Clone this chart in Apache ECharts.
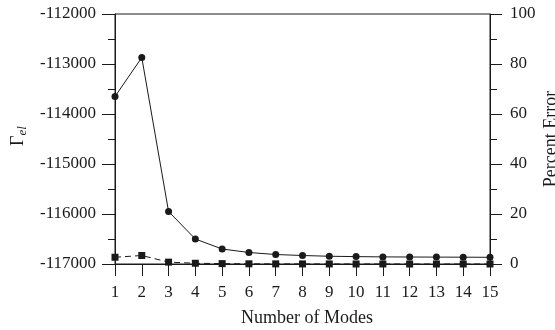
<!DOCTYPE html>
<html>
<head>
<meta charset="utf-8">
<script src="https://cdn.jsdelivr.net/npm/echarts@6/dist/echarts.min.js"></script>
<style>
  html, body { margin: 0; padding: 0; background: #fff; }
  #chart { width: 555px; height: 330px; }
</style>
</head>
<body>
<div id="chart"></div>
<script>
// Number of modes retained in the expansion
const modes = [1, 2, 3, 4, 5, 6, 7, 8, 9, 10, 11, 12, 13, 14, 15];
// Γ_el for each mode count (left axis)
const gammaEl = [-113650, -112870, -115950, -116500, -116700, -116770, -116810, -116830,
                 -116845, -116852, -116858, -116860, -116862, -116864, -116866];
// Percent error relative to the converged value (right axis)
const percentError = [2.7, 3.4, 0.75, 0.3, 0.15, 0.08, 0.05, 0.03, 0.02, 0.01, 0.01, 0, 0, 0, 0];

const FONT = 'Liberation Serif';
const INK = '#1a1a1a';

const chart = echarts.init(document.getElementById('chart'));

const tickText = { fontFamily: FONT, fontSize: 17, color: INK };
const nameText = { fontFamily: FONT, fontSize: 18, color: INK };

chart.setOption({
  animation: false,
  backgroundColor: '#fff',
  grid: {
    left: 115, right: 65, top: 14, bottom: 66,
    outerBoundsMode: 'none',
    containLabel: false,
    show: true, borderColor: INK, borderWidth: 1, backgroundColor: 'transparent'
  },
  xAxis: {
    type: 'value',
    min: 1, max: 15, interval: 1,
    name: 'Number of Modes',
    nameLocation: 'middle',
    nameGap: 45,
    nameMoveOverlap: false,
    nameTextStyle: Object.assign({ padding: [0, 0, 0, 9] }, nameText),
    axisLine: { lineStyle: { color: INK, width: 1 } },
    axisTick: { length: 12, lineStyle: { color: INK, width: 1 } },
    axisLabel: Object.assign({ margin: 20 }, tickText),
    splitLine: { show: false }
  },
  yAxis: [
    {
      type: 'value',
      position: 'left',
      min: -117000, max: -112000, interval: 1000,
      name: '{g|Γ}{s|el}',
      nameLocation: 'middle',
      nameRotate: 90,
      nameGap: 86,
      nameMoveOverlap: false,
      nameTextStyle: {
        padding: [0, 0, 0, 6],
        rich: {
          g: { fontFamily: FONT, fontSize: 18, color: INK },
          s: { fontFamily: FONT, fontSize: 13, fontStyle: 'italic', color: INK, padding: [8, 0, 0, 0] }
        }
      },
      axisLine: { show: true, lineStyle: { color: INK, width: 1 } },
      axisTick: { show: true, length: 13, lineStyle: { color: INK, width: 1 } },
      minorTick: { show: true, splitNumber: 2, length: 7, lineStyle: { color: INK, width: 1 } },
      axisLabel: Object.assign({ margin: 19, formatter: v => String(v) }, tickText),
      splitLine: { show: false }
    },
    {
      type: 'value',
      position: 'right',
      min: 0, max: 100, interval: 20,
      name: 'Percent Error',
      nameLocation: 'middle',
      nameRotate: 90,
      nameGap: 52,
      nameMoveOverlap: false,
      nameTextStyle: nameText,
      axisLine: { show: true, lineStyle: { color: INK, width: 1 } },
      axisTick: { show: true, length: 12, lineStyle: { color: INK, width: 1 } },
      minorTick: { show: true, splitNumber: 2, length: 7, lineStyle: { color: INK, width: 1 } },
      axisLabel: Object.assign({ margin: 20 }, tickText),
      splitLine: { show: false }
    }
  ],
  series: [
    {
      type: 'line',
      yAxisIndex: 1,
      data: modes.map((m, i) => [m, percentError[i]]),
      symbol: 'rect',
      symbolSize: 7,
      itemStyle: { color: INK },
      lineStyle: { color: INK, width: 1, type: [6, 4] },
      z: 2
    },
    {
      type: 'line',
      yAxisIndex: 0,
      data: modes.map((m, i) => [m, gammaEl[i]]),
      symbol: 'circle',
      symbolSize: 7,
      itemStyle: { color: INK },
      lineStyle: { color: INK, width: 1 },
      z: 3
    }
  ]
});
</script>
</body>
</html>
